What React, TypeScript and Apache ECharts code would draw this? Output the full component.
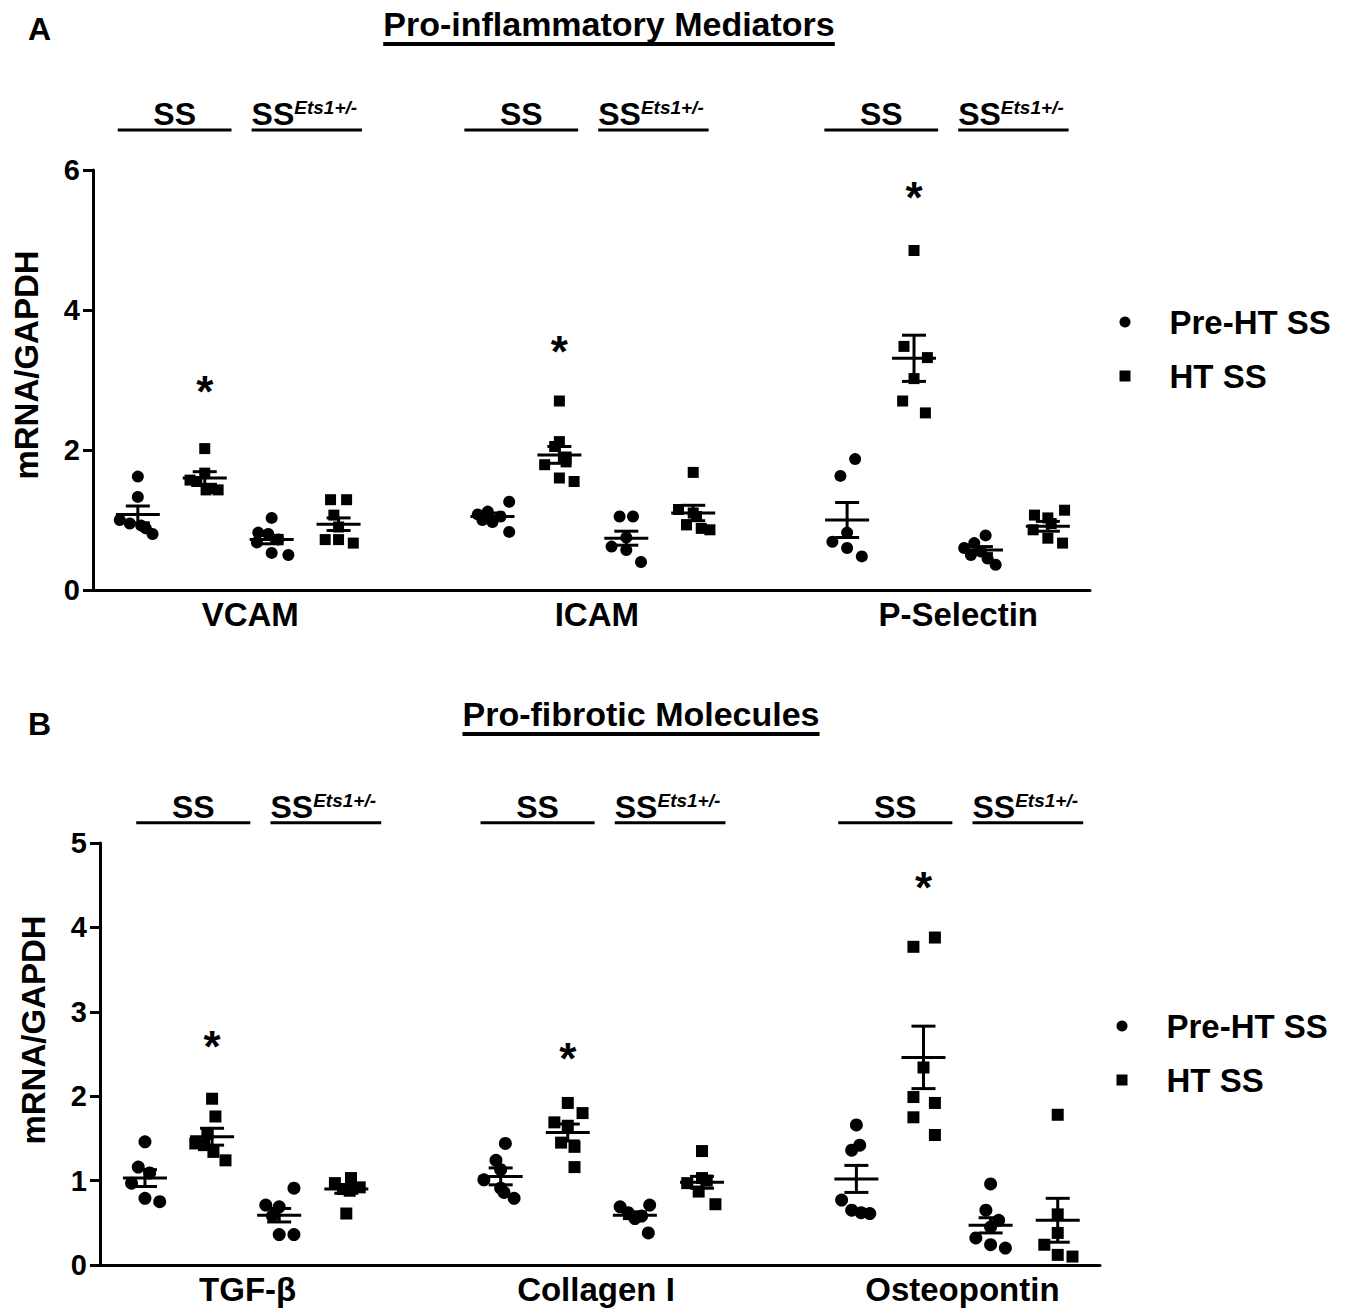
import React, { useEffect, useRef } from "react";
import * as echarts from "echarts";

const FONT = '"Liberation Sans", Arial, Helvetica, sans-serif';

// ---------- Text ----------
const titleA = "Pro-inflammatory Mediators";
const titleB = "Pro-fibrotic Molecules";
const categoriesA = ["VCAM", "ICAM", "P-Selectin"];
const categoriesB = ["TGF-β", "Collagen I", "Osteopontin"];
const legendNames = ["Pre-HT SS", "HT SS"];
const yAxisName = "mRNA/GAPDH";

// ---------- Panel A data (group order: SS pre-HT, SS HT, SS Ets1+/- pre-HT, SS Ets1+/- HT) ----------
const vcamValues = [
  [1.62, 1.33, 1.0, 0.95, 0.92, 0.88, 0.8],
  [2.02, 1.67, 1.57, 1.55, 1.45, 1.43, 1.43],
  [1.03, 0.82, 0.8, 0.72, 0.68, 0.53, 0.5],
  [1.29, 1.29, 1.07, 0.9, 0.72, 0.72, 0.67],
];
const vcamJitter = [
  [0, 0, -0.27, -0.12, 0.05, 0.12, 0.22],
  [0, 0, -0.22, -0.12, 0.1, 0.2, 0.02],
  [0, -0.2, -0.05, 0.1, -0.22, 0, 0.25],
  [-0.12, 0.12, -0.07, 0, -0.2, 0, 0.22],
];
const icamValues = [
  [1.26, 1.12, 1.08, 1.05, 1.0, 0.97, 0.83],
  [2.7, 2.12, 2.05, 1.9, 1.83, 1.79, 1.6, 1.55],
  [1.05, 1.05, 0.75, 0.62, 0.57, 0.4],
  [1.68, 1.15, 1.1, 1.05, 0.93, 0.88, 0.86],
];
const icamJitter = [
  [0.25, -0.07, -0.22, 0.12, -0.15, 0, 0.25],
  [0, 0, -0.07, 0.1, 0.1, -0.22, 0, 0.22],
  [-0.1, 0.1, 0, -0.22, 0, 0.22],
  [0, -0.22, 0, 0.05, -0.1, 0.12, 0.25],
];
const pselValues = [
  [1.87, 1.63, 0.82, 0.69, 0.6, 0.48],
  [4.85, 3.48, 3.32, 3.02, 2.7, 2.53],
  [0.78, 0.67, 0.6, 0.55, 0.5, 0.45, 0.36],
  [1.14, 1.07, 1.03, 0.95, 0.86, 0.74, 0.67],
];
const pselJitter = [
  [0.12, -0.1, 0, -0.22, 0, 0.22],
  [0, -0.15, 0.2, 0, -0.17, 0.17],
  [0.07, -0.1, -0.25, 0, -0.15, 0.1, 0.22],
  [0.25, -0.2, 0, 0.05, -0.22, 0, 0.22],
];
const meansA = [
  [1.08, 1.6, 0.72, 0.94],
  [1.05, 1.93, 0.74, 1.1],
  [1.0, 3.31, 0.57, 0.91],
];
const semsA = [
  [0.12, 0.09, 0.06, 0.09],
  [0.05, 0.12, 0.1, 0.11],
  [0.25, 0.33, 0.05, 0.07],
];
const asteriskA = [2.96, 3.54, 5.74];

// ---------- Panel B data ----------
const tgfValues = [
  [1.46, 1.16, 1.09, 0.97, 0.79, 0.75],
  [1.97, 1.76, 1.55, 1.44, 1.42, 1.34, 1.24],
  [0.91, 0.71, 0.69, 0.58, 0.36, 0.36],
  [1.03, 0.97, 0.92, 0.9, 0.88, 0.61],
];
const tgfJitter = [
  [0, -0.1, 0.07, -0.2, 0, 0.22],
  [0, 0.05, -0.07, -0.25, -0.12, 0.02, 0.2],
  [0.22, -0.2, 0, -0.1, 0, 0.22],
  [0.07, -0.17, 0.2, -0.05, 0.05, 0],
];
const colValues = [
  [1.44, 1.24, 1.13, 1.01, 0.91, 0.86, 0.79],
  [1.92, 1.8, 1.69, 1.65, 1.45, 1.4, 1.16],
  [0.71, 0.69, 0.62, 0.58, 0.55, 0.38],
  [1.35, 1.03, 1.0, 0.97, 0.87, 0.72],
];
const colJitter = [
  [0.07, -0.07, 0, -0.25, 0, 0.05, 0.2],
  [0, 0.22, -0.2, 0, -0.1, 0.1, 0.1],
  [0.22, -0.22, -0.1, 0.1, 0, 0.2],
  [0, 0, 0.07, -0.22, -0.05, 0.2],
];
const ostValues = [
  [1.66, 1.42, 1.36, 0.77, 0.65, 0.62, 0.61],
  [3.88, 3.77, 2.34, 1.99, 1.92, 1.75, 1.54],
  [0.96, 0.65, 0.53, 0.45, 0.32, 0.24, 0.2],
  [1.78, 0.6, 0.38, 0.24, 0.12, 0.1],
];
const ostJitter = [
  [0, 0.05, -0.07, -0.22, -0.07, 0.07, 0.2],
  [0.17, -0.15, 0, -0.15, 0.17, -0.15, 0.17],
  [0, -0.07, 0.12, 0, -0.22, 0, 0.22],
  [0, 0, 0, -0.2, 0, 0.22],
];
const meansB = [
  [1.03, 1.52, 0.59, 0.9],
  [1.05, 1.57, 0.59, 0.98],
  [1.02, 2.46, 0.47, 0.53],
];
const semsB = [
  [0.1, 0.1, 0.08, 0.05],
  [0.1, 0.1, 0.04, 0.07],
  [0.16, 0.37, 0.09, 0.26],
];
const asteriskB = [2.7, 2.55, 4.58];

// ---------- Layout (not data) ----------
const groupBase = [0.67, 5.97, 11.27];
const labelXA = [2.35, 7.53, 12.93];
const labelXB = [2.2, 7.39, 12.85];
const headerShiftA = [0, -0.12, -0.04];
const headerShiftB = [0.17, 0, 0.03];

function measure(text: string, font: string) {
  const ctx = document.createElement("canvas").getContext("2d")!;
  ctx.font = font;
  return ctx.measureText(text).width;
}

function panelSeries(p: number, cfg: any) {
  const pre: number[][] = [];
  const ht: number[][] = [];
  const err: number[][] = [];
  for (let c = 0; c < 3; c++) {
    for (let g = 0; g < 4; g++) {
      const vals = cfg.values[c][g];
      const jit = cfg.jitter[c][g];
      const target = g % 2 === 0 ? pre : ht;
      vals.forEach((v: number, i: number) => target.push([groupBase[c] + g + jit[i], v]));
      err.push([groupBase[c] + g, cfg.means[c][g], cfg.sems[c][g]]);
    }
  }
  const headers: number[][] = [];
  for (let c = 0; c < 3; c++) {
    const b = groupBase[c] + cfg.headerShift[c];
    headers.push([b - 0.3, cfg.headerY, b + 1.4, 0]);
    headers.push([b + 1.7, cfg.headerY, b + 3.35, 1]);
  }
  const common = { xAxisIndex: p, yAxisIndex: p, silent: true };
  const st = { stroke: "#000", lineWidth: 3 };
  return [
    {
      ...common,
      type: "scatter",
      name: legendNames[0],
      symbol: "circle",
      symbolSize: cfg.circle,
      itemStyle: { color: "#000", opacity: 1 },
      data: pre,
      z: 3,
    },
    {
      ...common,
      type: "scatter",
      name: legendNames[1],
      symbol: "rect",
      symbolSize: cfg.square,
      itemStyle: { color: "#000", opacity: 1 },
      data: ht,
      z: 3,
    },
    {
      ...common,
      type: "custom",
      name: "mean ± SEM",
      z: 4,
      data: err,
      renderItem: (_params: any, api: any) => {
        const x = api.value(0);
        const m = api.value(1);
        const s = api.value(2);
        const c = api.coord([x, m]);
        const t = api.coord([x, m + s]);
        const b = api.coord([x, m - s]);
        return {
          type: "group",
          children: [
            { type: "line", shape: { x1: c[0] - 22, y1: c[1], x2: c[0] + 22, y2: c[1] }, style: st },
            { type: "line", shape: { x1: c[0], y1: t[1], x2: c[0], y2: b[1] }, style: st },
            { type: "line", shape: { x1: c[0] - 12, y1: t[1], x2: c[0] + 12, y2: t[1] }, style: st },
            { type: "line", shape: { x1: c[0] - 12, y1: b[1], x2: c[0] + 12, y2: b[1] }, style: st },
          ],
        };
      },
    },
    {
      ...common,
      type: "custom",
      name: "group headers",
      z: 4,
      data: headers,
      renderItem: (_params: any, api: any) => {
        const s = api.coord([api.value(0), api.value(1)]);
        const e = api.coord([api.value(2), api.value(1)]);
        const kind = api.value(3);
        const line = { type: "line", shape: { x1: s[0], y1: s[1], x2: e[0], y2: s[1] }, style: st };
        const text =
          kind === 0
            ? {
                type: "text",
                x: (s[0] + e[0]) / 2,
                y: s[1],
                style: {
                  text: "SS",
                  fill: "#000",
                  fontSize: 32,
                  fontWeight: "bold",
                  fontFamily: FONT,
                  align: "center",
                  verticalAlign: "bottom",
                },
              }
            : {
                type: "text",
                x: s[0],
                y: s[1],
                style: {
                  text: "{a|SS}{b|Ets1+/-}",
                  fill: "#000",
                  align: "left",
                  verticalAlign: "bottom",
                  rich: {
                    a: { fontSize: 32, fontWeight: "bold", fontFamily: FONT, fill: "#000" },
                    b: {
                      fontSize: 19,
                      fontWeight: "bold",
                      fontStyle: "italic",
                      fontFamily: FONT,
                      fill: "#000",
                      verticalAlign: "top",
                    },
                  },
                },
              };
        return { type: "group", children: [line, text] };
      },
    },
    {
      ...common,
      type: "custom",
      name: "category labels",
      z: 4,
      data: cfg.labelX.map((x: number) => [x, 0]),
      renderItem: (params: any, api: any) => {
        const pt = api.coord([api.value(0), 0]);
        return {
          type: "text",
          x: pt[0],
          y: pt[1] + 8,
          style: {
            text: cfg.labels[params.dataIndex],
            fill: "#000",
            fontSize: 33,
            fontWeight: "bold",
            fontFamily: FONT,
            align: "center",
            verticalAlign: "top",
          },
        };
      },
    },
    {
      ...common,
      type: "custom",
      name: "significance",
      z: 4,
      data: cfg.asterisk.map((y: number, c: number) => [groupBase[c] + 1, y]),
      renderItem: (_params: any, api: any) => {
        const pt = api.coord([api.value(0), api.value(1)]);
        return {
          type: "text",
          x: pt[0],
          y: pt[1] + 9,
          style: {
            text: "*",
            fill: "#000",
            fontSize: 44,
            fontWeight: "bold",
            fontFamily: FONT,
            align: "center",
            verticalAlign: "middle",
          },
        };
      },
    },
  ];
}

function buildOption() {
  const cfgA = {
    values: [vcamValues, icamValues, pselValues],
    jitter: [vcamJitter, icamJitter, pselJitter],
    means: meansA,
    sems: semsA,
    asterisk: asteriskA,
    labels: categoriesA,
    labelX: labelXA,
    headerShift: headerShiftA,
    headerY: 6.57,
    circle: 12,
    square: 11,
  };
  const cfgB = {
    values: [tgfValues, colValues, ostValues],
    jitter: [tgfJitter, colJitter, ostJitter],
    means: meansB,
    sems: semsB,
    asterisk: asteriskB,
    labels: categoriesB,
    labelX: labelXB,
    headerShift: headerShiftB,
    headerY: 5.24,
    circle: 13,
    square: 12,
  };
  const axisLine = { show: true, onZero: false, lineStyle: { color: "#000", width: 3 } };
  const yAxis = (p: number, max: number, interval: number, shift: number) => ({
    gridIndex: p,
    type: "value",
    min: 0,
    max,
    interval,
    axisLine,
    axisTick: { show: true, length: 10, lineStyle: { color: "#000", width: 3 } },
    axisLabel: { fontSize: 29, fontWeight: "bold", color: "#000", margin: 13, fontFamily: FONT },
    splitLine: { show: false },
    name: yAxisName,
    nameLocation: "middle",
    nameGap: 50,
    nameTextStyle: {
      fontSize: 33,
      fontWeight: "bold",
      color: "#000",
      fontFamily: FONT,
      padding: [0, 0, 0, shift],
    },
  });
  const xAxis = (p: number) => ({
    gridIndex: p,
    type: "value",
    min: 0,
    max: 14.9,
    axisLine,
    axisTick: { show: false },
    axisLabel: { show: false },
    splitLine: { show: false },
  });
  const titleFont = `bold 34px ${FONT}`;
  const wA = measure(titleA, titleFont);
  const wB = measure(titleB, titleFont);
  const legend = (left: number, top: number) => ({
    left,
    top,
    orient: "vertical",
    padding: 0,
    itemWidth: 11,
    itemHeight: 11,
    itemGap: 21,
    selectedMode: false,
    data: [
      { name: legendNames[0], icon: "circle" },
      { name: legendNames[1], icon: "rect" },
    ],
    textStyle: {
      fontSize: 33,
      fontWeight: "bold",
      color: "#000",
      fontFamily: FONT,
      padding: [0, 0, 0, 34],
    },
  });
  return {
    animation: false,
    backgroundColor: "#fff",
    title: [
      {
        text: titleA,
        left: 609,
        top: 7,
        padding: 0,
        textAlign: "center",
        textStyle: { fontSize: 34, fontWeight: "bold", color: "#000", fontFamily: FONT },
      },
      {
        text: titleB,
        left: 641,
        top: 697,
        padding: 0,
        textAlign: "center",
        textStyle: { fontSize: 34, fontWeight: "bold", color: "#000", fontFamily: FONT },
      },
      {
        text: "A",
        left: 28,
        top: 13,
        padding: 0,
        textStyle: { fontSize: 32, fontWeight: "bold", color: "#000", fontFamily: FONT },
      },
      {
        text: "B",
        left: 28,
        top: 708,
        padding: 0,
        textStyle: { fontSize: 32, fontWeight: "bold", color: "#000", fontFamily: FONT },
      },
    ],
    graphic: [
      { type: "rect", shape: { x: 609 - wA / 2, y: 42, width: wA, height: 4 }, style: { fill: "#000" } },
      { type: "rect", shape: { x: 641 - wB / 2, y: 732, width: wB, height: 4 }, style: { fill: "#000" } },
    ],
    legend: [legend(1119.5, 305.5), legend(1116.5, 1009.5)],
    grid: [
      { left: 93, top: 170, width: 997, height: 420 },
      { left: 100, top: 843, width: 1000, height: 422 },
    ],
    xAxis: [xAxis(0), xAxis(1)],
    yAxis: [yAxis(0, 6, 2, 30), yAxis(1, 5, 1, 48)],
    series: [...panelSeries(0, cfgA), ...panelSeries(1, cfgB)],
  };
}

export default function App() {
  const ref = useRef<HTMLDivElement>(null);
  useEffect(() => {
    document.body.style.margin = "0";
    const chart = echarts.init(ref.current!, null, { renderer: "svg" });
    chart.setOption(buildOption() as any);
    return () => chart.dispose();
  }, []);
  return <div ref={ref} style={{ width: 1351, height: 1311 }} />;
}
